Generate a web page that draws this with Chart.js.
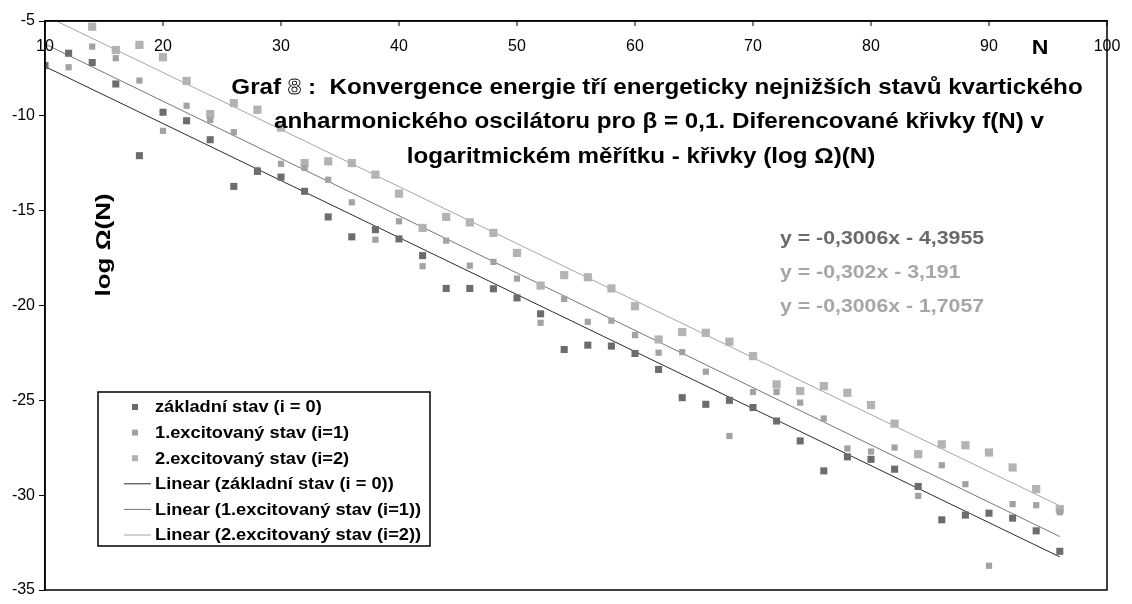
<!DOCTYPE html>
<html>
<head>
<meta charset="utf-8">
<script src="https://cdn.jsdelivr.net/npm/chart.js@4.4.1/dist/chart.umd.min.js"></script>
<style>
  html, body { margin: 0; padding: 0; background: #fff; }
  #wrap { width: 1132px; height: 604px; }
</style>
</head>
<body>
<div id="wrap"><canvas id="chart" width="1132" height="604"></canvas></div>
<script>
// N values (even sizes of the basis)
const N = [10, 12, 14, 16, 18, 20, 22, 24, 26, 28, 30, 32, 34, 36, 38, 40, 42, 44, 46, 48,
           50, 52, 54, 56, 58, 60, 62, 64, 66, 68, 70, 72, 74, 76, 78, 80, 82, 84, 86, 88,
           90, 92, 94, 96];

// log Omega(N) for each state
const zakladni = [-7.35, -6.70, -7.19, -8.32, -12.10, -9.81, -10.26, -11.26, -13.72, -12.93,
                  -13.23, -13.98, -15.33, -16.38, -16.00, -16.49, -17.37, -19.10, -19.10, -19.12,
                  -19.60, -20.44, -22.32, -22.09, -22.14, -22.53, -23.37, -24.86, -25.21, -25.00,
                  -25.38, -26.09, -27.14, -28.72, -27.98, -28.11, -28.63, -29.54, -31.30, -31.05,
                  -30.95, -31.21, -31.88, -32.96];
const excit1 = [null, -7.44, -6.35, -6.96, -8.14, -10.79, -9.47, -10.21, -10.86, -12.85,
                -12.53, -12.75, -13.37, -14.56, -16.53, -15.56, -17.93, -16.58, -17.90, -17.70,
                -18.58, -20.91, -19.65, -20.86, -20.80, -21.56, -22.49, -22.46, -23.49, -26.88,
                -24.56, -24.56, -25.12, -25.96, -27.54, -27.70, -27.49, -30.04, -28.42, -29.42,
                -33.72, -30.47, -30.53, -30.90];
const excit2 = [null, null, -5.30, -6.53, -6.26, -6.91, -8.16, -9.91, -9.33, -9.68,
                -10.62, -12.49, -12.40, -12.49, -13.10, -14.10, -15.91, -15.33, -15.62, -16.17,
                -17.23, -18.95, -18.40, -18.51, -19.10, -20.04, -21.79, -21.40, -21.44, -21.91,
                -22.67, -24.16, -24.51, -24.25, -24.60, -25.25, -26.23, -27.84, -27.32, -27.37,
                -27.75, -28.54, -29.68, -30.74];

const seriesNames = ['základní stav (i = 0)', '1.excitovaný stav (i=1)', '2.excitovaný stav (i=2)'];

// linear trend lines y = a*x + b
const trendSlopes = [-0.3006, -0.302, -0.3006];
const trendIntercepts = [-4.3955, -3.191, -1.7057];

const xTicks = [10, 20, 30, 40, 50, 60, 70, 80, 90, 100];
const yTicks = [-5, -10, -15, -20, -25, -30, -35];

const titleLines = [
  'Graf 8 :  Konvergence energie tří energeticky nejnižších stavů kvartického',
  'anharmonického oscilátoru pro β = 0,1. Diferencované křivky f(N) v',
  'logaritmickém měřítku - křivky (log Ω)(N)'
];

const FONT = '"Liberation Sans", Arial, sans-serif';
const markerColors = ['#6c6c6c', '#a2a2a2', '#b3b3b3'];
const markerSizes = [5, 4.4, 5.8];
const lineColors = ['#2c2c2c', '#777777', '#a6a6a6'];
const eqColors = ['#6a6a6a', '#a6a6a6', '#a6a6a6'];

const points = ys => N.map((n, i) => ({ x: n, y: ys[i] }));
const trend = k => [N[0], N[N.length - 1]].map(n => ({ x: n, y: trendSlopes[k] * n + trendIntercepts[k] }));
const fmt = v => String(v).replace('.', ',');

const series = [zakladni, excit1, excit2];

// bold labels are a little wider than the stock face, so stretch them sideways
function wideText(ctx, text, x, y, stretch, align) {
  ctx.save();
  ctx.translate(x, y);
  ctx.scale(stretch, 1);
  ctx.textAlign = align;
  ctx.fillText(text, 0, 0);
  ctx.restore();
}

const decorations = {
  id: 'decorations',
  afterDraw(chart) {
    const { ctx, chartArea: a, scales: { x } } = chart;
    ctx.save();

    // frame around the plot
    ctx.strokeStyle = '#000';
    ctx.lineWidth = 1.5;
    ctx.strokeRect(a.left, a.top, a.right - a.left, a.bottom - a.top);

    // x axis sits on top; ticks hang into the plot with labels below them
    ctx.lineWidth = 1;
    ctx.fillStyle = '#000';
    ctx.font = `16px ${FONT}`;
    ctx.textAlign = 'center';
    ctx.textBaseline = 'middle';
    xTicks.forEach(v => {
      const px = x.getPixelForValue(v);
      ctx.beginPath();
      ctx.moveTo(px, a.top);
      ctx.lineTo(px, a.top + 5);
      ctx.stroke();
      ctx.fillText(String(v), px, a.top + 26);
    });

    // axis names
    ctx.font = `bold 21px ${FONT}`;
    wideText(ctx, 'N', 1040, 48, 1.1, 'center');
    ctx.save();
    ctx.translate(104, 245);
    ctx.rotate(-Math.PI / 2);
    ctx.font = `bold 20px ${FONT}`;
    wideText(ctx, 'log Ω(N)', 0, 0, 1.3, 'center');
    ctx.restore();

    // title, the figure number is drawn in outline
    const tStretch = 1.1;
    ctx.font = `bold 22px ${FONT}`;
    const centers = [657, 659, 641];
    const rows = [88, 122, 157];
    const [pre, post] = titleLines[0].split('8');
    const wPre = ctx.measureText(pre).width;
    const w8 = ctx.measureText('8').width;
    const wPost = ctx.measureText(post).width;
    ctx.save();
    ctx.translate(centers[0], rows[0]);
    ctx.scale(tStretch, 1);
    const sx = -(wPre + w8 + wPost) / 2;
    ctx.textAlign = 'left';
    ctx.fillText(pre, sx, 0);
    ctx.lineWidth = 0.8;
    ctx.strokeStyle = '#000';
    ctx.strokeText('8', sx + wPre, 0);
    ctx.fillText(post, sx + wPre + w8, 0);
    ctx.restore();
    wideText(ctx, titleLines[1], centers[1], rows[1], tStretch, 'center');
    wideText(ctx, titleLines[2], centers[2], rows[2], tStretch, 'center');

    // trend line equations
    ctx.font = `bold 19px ${FONT}`;
    trendSlopes.forEach((s, k) => {
      ctx.fillStyle = eqColors[k];
      wideText(ctx, `y = ${fmt(s)}x - ${fmt(-trendIntercepts[k])}`, 780, 239 + 34 * k, 1.12, 'left');
    });

    // legend box
    const lx = 98, ly = 392, lw = 332, lh = 154;
    ctx.fillStyle = '#fff';
    ctx.fillRect(lx, ly, lw, lh);
    ctx.strokeStyle = '#000';
    ctx.lineWidth = 1.5;
    ctx.strokeRect(lx, ly, lw, lh);
    ctx.font = `bold 16px ${FONT}`;
    chart.data.datasets.forEach((ds, i) => {
      const y = ly + 15 + i * 25.6;
      if (ds.showLine) {
        ctx.strokeStyle = ds.borderColor;
        ctx.lineWidth = 1;
        ctx.beginPath();
        ctx.moveTo(124, y);
        ctx.lineTo(151, y);
        ctx.stroke();
      } else {
        ctx.fillStyle = ds.backgroundColor;
        ctx.fillRect(132, y - 3, 6, 6);
      }
      ctx.fillStyle = '#000';
      wideText(ctx, ds.label, 155, y + 1, 1.14, 'left');
    });

    ctx.restore();
  }
};

new Chart(document.getElementById('chart').getContext('2d'), {
  type: 'scatter',
  data: {
    datasets: [
      ...series.map((ys, k) => ({
        label: seriesNames[k],
        data: points(ys),
        pointStyle: 'rect',
        pointRadius: markerSizes[k],
        backgroundColor: markerColors[k],
        borderColor: markerColors[k],
        borderWidth: 0,
        showLine: false
      })),
      ...series.map((ys, k) => ({
        label: `Linear (${seriesNames[k]})`,
        data: trend(k),
        showLine: true,
        borderColor: lineColors[k],
        borderWidth: 1,
        pointRadius: 0
      }))
    ]
  },
  options: {
    responsive: false,
    animation: false,
    devicePixelRatio: 1,
    layout: { padding: { left: 0, top: 0, right: 25, bottom: 14 } },
    plugins: { legend: { display: false }, tooltip: { enabled: false } },
    scales: {
      x: {
        type: 'linear',
        position: 'top',
        min: 10,
        max: 100,
        afterBuildTicks: s => { s.ticks = xTicks.map(v => ({ value: v })); },
        afterFit: s => { s.height = 21; },
        ticks: { display: false },
        grid: { drawOnChartArea: false, drawTicks: false },
        border: { color: '#000', width: 1.5 }
      },
      y: {
        type: 'linear',
        min: -35,
        max: -5,
        afterBuildTicks: s => { s.ticks = yTicks.map(v => ({ value: v })); },
        afterFit: s => { s.width = 45; },
        ticks: { color: '#000', font: { family: FONT, size: 16 }, padding: 4 },
        grid: { drawOnChartArea: false, tickLength: 6, color: '#000' },
        border: { color: '#000', width: 1.5 }
      }
    }
  },
  plugins: [decorations]
});
</script>
</body>
</html>
